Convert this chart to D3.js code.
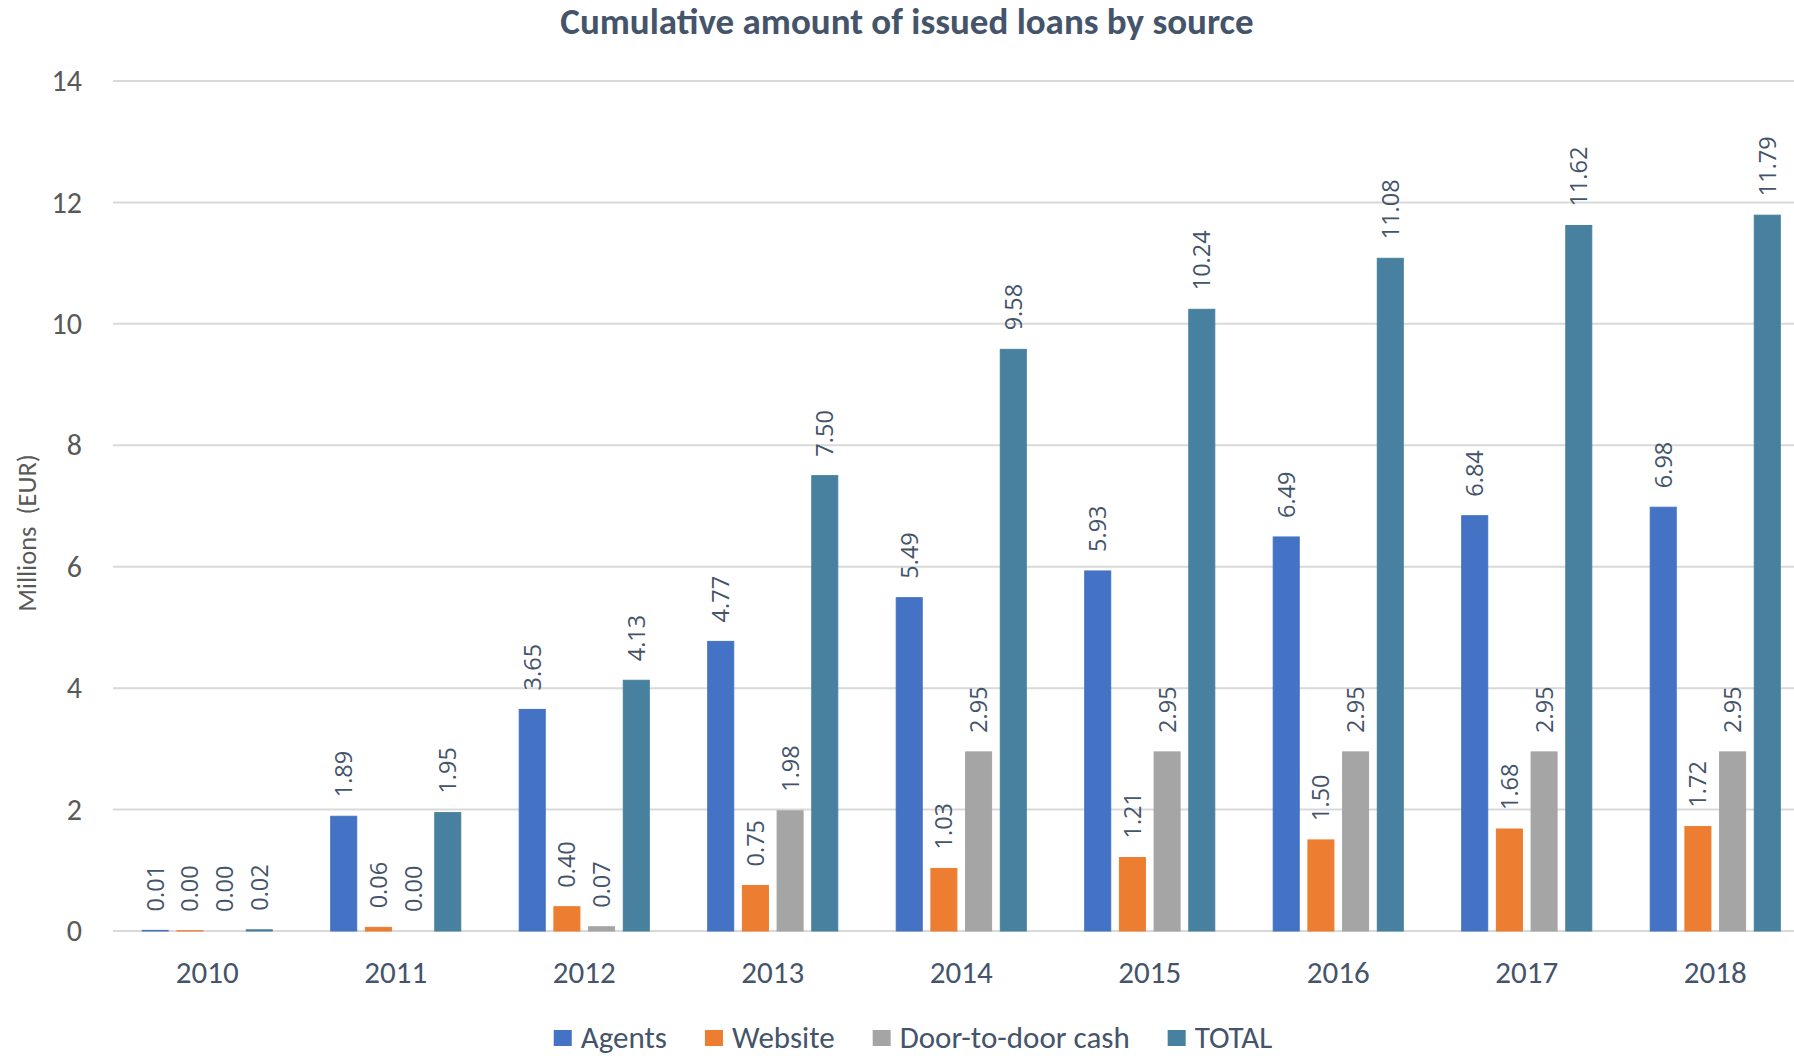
<!DOCTYPE html>
<html>
<head>
<meta charset="utf-8">
<script src="https://cdn.jsdelivr.net/npm/d3@7"></script>
<style>
  html, body { margin: 0; padding: 0; background: #fff; overflow: hidden; }
  svg { display: block; }
</style>
</head>
<body>
<svg id="chart" width="1794" height="1056"></svg>
<script>
// data (millions EUR)
const years = ['2010', '2011', '2012', '2013', '2014', '2015', '2016', '2017', '2018'];
const seriesNames = ['Agents', 'Website', 'Door-to-door cash', 'TOTAL'];
const agents = [0.01, 1.89, 3.65, 4.77, 5.49, 5.93, 6.49, 6.84, 6.98];
const website = [0.004, 0.06, 0.40, 0.75, 1.03, 1.21, 1.50, 1.68, 1.72];
const doorToDoor = [0, 0, 0.07, 1.98, 2.95, 2.95, 2.95, 2.95, 2.95];
const total = [0.02, 1.95, 4.13, 7.50, 9.58, 10.24, 11.08, 11.62, 11.79];
const yTicks = [0, 2, 4, 6, 8, 10, 12, 14];

const colors = ['#4472C4', '#ED7D31', '#A5A5A5', '#47819F'];
const seriesValues = [agents, website, doorToDoor, total];

const textDark = '#44546A';
const textGrey = '#595959';
const font = 'Carlito, Calibri, Lato, sans-serif';
const labelFont = '"Open Sans", sans-serif';

const svg = d3.select('#chart');

// scales
const x0 = d3.scaleBand()
  .domain(years)
  .range([113, 113 + 188.5 * years.length])
  .paddingInner(0.31)
  .paddingOuter(0.155);

const x1 = d3.scaleBand()
  .domain(seriesNames)
  .range([0, x0.bandwidth()])
  .paddingInner(0.25);

const y = d3.scaleLinear()
  .domain([0, 14])
  .range([931, 81]);

// gridlines
svg.append('g')
  .selectAll('line')
  .data(yTicks)
  .join('line')
  .attr('x1', x0.range()[0])
  .attr('x2', x0.range()[1])
  .attr('y1', d => y(d))
  .attr('y2', d => y(d))
  .attr('stroke', '#D9D9D9')
  .attr('stroke-width', 2);

// y axis labels
const yAxis = svg.append('g')
  .attr('transform', `translate(${x0.range()[0]},0)`)
  .call(d3.axisLeft(y).tickValues(yTicks).tickSize(0).tickPadding(31));
yAxis.select('.domain').remove();
yAxis.selectAll('text')
  .attr('font-family', font)
  .attr('font-size', 30)
  .attr('fill', textGrey);

// x axis labels
const xAxis = svg.append('g')
  .attr('transform', `translate(0,${y(0)})`)
  .call(d3.axisBottom(x0).tickSize(0).tickPadding(30));
xAxis.select('.domain').remove();
xAxis.selectAll('text')
  .attr('font-family', font)
  .attr('font-size', 31)
  .attr('fill', textDark)
  .attr('dy', '0.71em');

// bars
const rows = years.map((yr, i) => ({
  year: yr,
  items: seriesNames.map((s, k) => ({ series: s, value: seriesValues[k][i], color: colors[k] }))
}));

const groups = svg.append('g')
  .selectAll('g')
  .data(rows)
  .join('g')
  .attr('transform', d => `translate(${x0(d.year)},0)`);

groups.selectAll('rect')
  .data(d => d.items.filter(it => it.value > 0))
  .join('rect')
  .attr('x', d => x1(d.series))
  .attr('width', x1.bandwidth())
  .attr('y', d => y(d.value))
  .attr('height', d => y(0) - y(d.value))
  .attr('fill', d => d.color)
  .attr('stroke', d => d.color)
  .attr('stroke-width', 1);

// data labels, rotated
groups.selectAll('text')
  .data(d => d.items)
  .join('text')
  .attr('transform', d => `translate(${x1(d.series) + x1.bandwidth() / 2},${y(d.value) - 19}) rotate(-90)`)
  .attr('dy', '0.36em')
  .attr('font-family', labelFont)
  .attr('font-size', 23.5)
  .attr('fill', textDark)
  .text(d => d.value.toFixed(2));

// title
svg.append('text')
  .attr('x', 907)
  .attr('y', 34)
  .attr('text-anchor', 'middle')
  .attr('font-family', font)
  .attr('font-weight', 'bold')
  .attr('font-size', 37)
  .attr('fill', textDark)
  .text('Cumulative amount of issued loans by source');

// y axis title
svg.append('text')
  .attr('transform', 'translate(27,533) rotate(-90)')
  .attr('text-anchor', 'middle')
  .attr('dy', '0.35em')
  .attr('font-family', font)
  .attr('font-size', 26.5)
  .attr('fill', textGrey)
  .attr('xml:space', 'preserve')
  .text('Millions  (EUR)');

// legend
const legend = svg.append('g');
const items = legend.selectAll('g')
  .data(seriesNames)
  .join('g');
items.append('rect')
  .attr('width', 18)
  .attr('height', 16)
  .attr('y', -18)
  .attr('fill', (d, i) => colors[i]);
items.append('text')
  .attr('x', 27)
  .attr('font-family', font)
  .attr('font-size', 31)
  .attr('fill', textDark)
  .text(d => d);

let cx = 0;
items.each(function () {
  const w = 27 + d3.select(this).select('text').node().getComputedTextLength();
  d3.select(this).attr('transform', `translate(${cx},0)`);
  cx += w + 38;
});
const legendWidth = cx - 38;
legend.attr('transform', `translate(${913 - legendWidth / 2},1048)`);
</script>
</body>
</html>
